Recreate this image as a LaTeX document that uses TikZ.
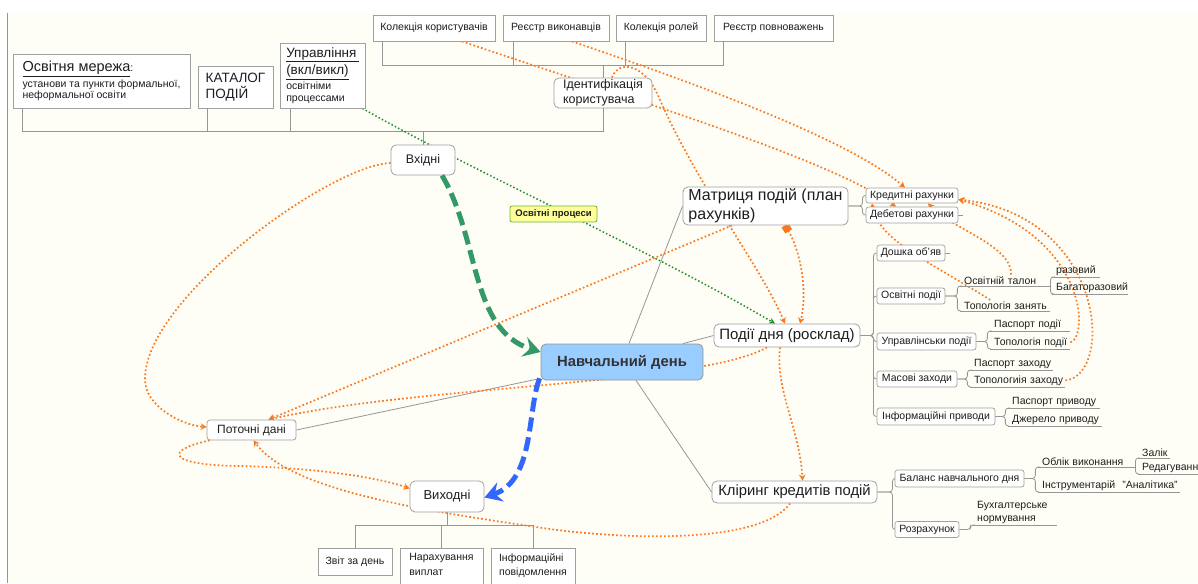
\documentclass[tikz,border=0pt]{standalone}
\usepackage{fontspec}
\setmainfont{Liberation Sans}
\usetikzlibrary{arrows.meta,calc}
\definecolor{bgcream}{RGB}{254,254,246}
\definecolor{edgegray}{RGB}{160,160,160}
\definecolor{linkgray}{RGB}{150,150,150}
\definecolor{relorange}{RGB}{250,120,30}
\definecolor{relgreen}{RGB}{30,140,40}
\definecolor{flowgreen}{RGB}{52,153,105}
\definecolor{flowblue}{RGB}{51,102,255}
\definecolor{hubblue}{RGB}{153,204,255}
\definecolor{notefill}{RGB}{255,255,153}
\definecolor{noteedge}{RGB}{110,180,60}
\definecolor{ink}{RGB}{30,30,30}
\definecolor{hubink}{RGB}{50,50,50}
\pgfdeclarelayer{bg}
\pgfdeclarelayer{links}
\pgfsetlayers{bg,links,main}

\begin{document}
\begin{tikzpicture}[x=1pt,y=-1pt,
  fs/.style 2 args={font=\fontsize{#1}{#2}\selectfont},
  topic/.style={draw=edgegray, fill=white, rounded corners=5pt, line width=0.8pt,
    text=ink, inner sep=0pt, align=left},
  sqbox/.style={draw=edgegray, fill=white, line width=0.8pt, text=ink, inner sep=0pt, align=left},
  subtopic/.style={draw=edgegray, fill=white, rounded corners=2.5pt, line width=0.7pt,
    text=ink, inner sep=0pt, fs={10.5}{12.5}},
  tree/.style={draw=linkgray, line width=0.8pt},
  branch/.style={tree, rounded corners=3pt},
  leaf/.style={anchor=south west, inner xsep=4pt, inner ysep=1.5pt, text=ink,
    fs={10.5}{12.5}, align=left, text width=#1,
    append after command={(\tikzlastnode.south west) edge[tree] (\tikzlastnode.south east)}},
  rel/.style={draw=relorange, line width=1.7pt, dash pattern=on 1.7pt off 2.3pt},
  relarrow/.style={rel, -{Stealth[length=6pt,width=6.5pt]}},
  grel/.style={draw=relgreen, line width=1.5pt, dash pattern=on 1.5pt off 2.2pt,
    -{Stealth[length=6pt,width=6pt]}},
  flow/.style={line width=5pt, dash pattern=on 14pt off 6pt,
    -{Stealth[length=17pt,width=20pt,inset=6pt]}}
]
\useasboundingbox (0,0) rectangle (1198,583);

% page background and frame line
\begin{pgfonlayer}{bg}
  \fill[white] (0,0) rectangle (1198,583);
  \fill[bgcream] (7,13) rectangle (1198,583);
  \draw[linkgray, line width=0.8pt] (7,13) -- (7,583);
\end{pgfonlayer}

% ---------- top registries ----------
\node[sqbox, fs={10.5}{12.5}, minimum width=122pt, minimum height=26pt] (kolk) at (434,28) {Колекція користувачів};
\node[sqbox, fs={10.5}{12.5}, minimum width=106pt, minimum height=26pt] (reestrv) at (556,28) {Реєстр виконавців};
\node[sqbox, fs={10.5}{12.5}, minimum width=90pt, minimum height=26pt] (kolr) at (661,28) {Колекція ролей};
\node[sqbox, fs={10.5}{12.5}, minimum width=119pt, minimum height=26pt] (reestrp) at (773.5,28) {Реєстр повноважень};

\node[topic, fs={12.5}{15}, minimum width=98pt, minimum height=30pt] (ident) at (603,93) {Ідентифікація\\користувача};

% ---------- input sources ----------
\node[sqbox, fs={10.5}{11.5}, minimum width=177pt, minimum height=54pt] (merezha) at (101.5,81)
  {{\fontsize{14.5}{16}\selectfont\underline{Освітня мережа}}:\\[2pt]установи та пункти формальної,\\неформальної освіти};
\node[sqbox, fs={13.5}{16}, minimum width=75pt, minimum height=42pt] (katalog) at (235.5,87) {КАТАЛОГ\\ПОДІЙ};
\node[sqbox, fs={10.5}{12}, minimum width=85pt, minimum height=65pt] (upravl) at (322.5,75.5)
  {{\fontsize{13.5}{15}\selectfont\underline{Управління\,}}\\[2pt]{\fontsize{13.5}{15}\selectfont\underline{(вкл/викл)}}\\[1pt]освітніми\\процессами};

\node[topic, fs={12.5}{15}, minimum width=64pt, minimum height=30pt] (vkh) at (423,160) {Вхідні};

% label that sits on the green relationship
\node[draw=noteedge, fill=notefill, rounded corners=2pt, line width=0.8pt, inner sep=0pt,
  text=ink, font=\fontsize{9.5}{11}\selectfont\bfseries, minimum width=87pt, minimum height=16pt] (osvproc) at (553.5,214) {Освітні процеси};

% ---------- central topics ----------
\node[topic, fs={16}{19}, minimum width=165pt, minimum height=38pt] (matr) at (765.5,206) {Матриця подій (план\\рахунків)};
\node[subtopic, minimum width=92pt, minimum height=15pt] (kred) at (912,195.5) {Кредитні рахунки};
\node[subtopic, minimum width=92pt, minimum height=16pt] (debet) at (912,215) {Дебетові рахунки};

\node[topic, fs={15}{18}, minimum width=146pt, minimum height=23pt] (podii) at (787,335.5) {Події дня (росклад)};

\node[topic, fill=hubblue, draw=linkgray, text=hubink, font=\fontsize{14.8}{17}\selectfont\bfseries,
  minimum width=162pt, minimum height=36pt] (navch) at (622,362) {Навчальний день};

\node[topic, rounded corners=3pt, fs={12}{14}, minimum width=89pt, minimum height=20pt] (potochni) at (251.5,430) {Поточні дані};
\node[topic, fs={13}{15}, minimum width=74pt, minimum height=31pt] (vykh) at (447,496.5) {Виходні};

\node[sqbox, fs={10.5}{12.5}, minimum width=74pt, minimum height=27pt] (zvit) at (355,561.5) {Звіт за день};
\node[sqbox, anchor=north, fs={10.5}{14.5}, minimum width=83pt, inner ysep=5pt, text depth=16pt] (narakh) at (441.5,548) {Нарахування\\виплат};
\node[sqbox, anchor=north, fs={10.5}{14.5}, minimum width=84pt, inner ysep=5pt, text depth=16pt] (inform) at (533,548) {Інформаційні\\повідомлення};

\node[topic, fs={14.8}{17}, minimum width=165pt, minimum height=22pt] (klir) at (794.5,492) {Кліринг кредитів подій};

% ---------- day events subtopics ----------
\node[subtopic, minimum width=68pt, minimum height=16pt] (doshka) at (911,253) {Дошка об’яв};
\node[subtopic, minimum width=68pt, minimum height=16pt] (osvp) at (911,296) {Освітні події};
\node[subtopic, minimum width=99pt, minimum height=17pt] (upr) at (926.5,341.5) {Управлінськи події};
\node[subtopic, minimum width=80pt, minimum height=16pt] (mas) at (917,379) {Масові заходи};
\node[subtopic, minimum width=118pt, minimum height=17pt] (inf) at (936,416.5) {Інформаційні приводи};

\node[leaf=82pt] (talon) at (960,286) {\mbox{Освітній талон}};
\node[leaf=82pt] (topzan) at (960,311) {\mbox{Топологія занять}};
\node[leaf=40pt] (razovyi) at (1052,277) {\mbox{разовий}};
\node[leaf=68pt] (bahato) at (1052,294) {\mbox{Багаторазовий}};
\node[leaf=72pt] (paspp) at (990,331) {\mbox{Паспорт події}};
\node[leaf=72pt] (topp) at (990,349) {\mbox{Топологія події}};
\node[leaf=75pt] (paspz) at (970,370) {\mbox{Паспорт заходу}};
\node[leaf=87pt] (topz) at (970,387) {\mbox{Топологиія заходу}};
\node[leaf=84pt] (paspr) at (1008,408) {\mbox{Паспорт приводу}};
\node[leaf=86pt] (dzher) at (1008,426) {\mbox{Джерело приводу}};

% ---------- clearing subtopics ----------
\node[subtopic, minimum width=129pt, minimum height=17pt] (balans) at (959.5,478.5) {Баланс навчального дня};
\node[subtopic, minimum width=64pt, minimum height=16pt] (rozr) at (927,529.5) {Розрахунок};
\node[leaf=89pt] (oblik) at (1038,467) {\mbox{Облік виконання}};
\node[leaf=134pt] (instr) at (1038,492) {\mbox{Інструментарій\ \ "Аналітика"}};
\node[leaf=24pt] (zalik) at (1138,458) {\mbox{Залік}};
\node[leaf=72pt] (redag) at (1138,474) {\mbox{Редагування}};
\node[leaf=76pt] (bukh) at (973,525) {Бухгалтерське\\нормування};

% ---------- tree connectors ----------
\begin{pgfonlayer}{links}
  \draw[tree] ([xshift=10pt]kolk.south west) -- ++(0,24) -| (ident.north);
  \draw[tree] ([xshift=11pt]reestrv.south west) -- ++(0,24) -| (ident.north);
  \draw[tree] ([xshift=10pt]kolr.south west) -- ++(0,24) -| (ident.north);
  \draw[tree] ([xshift=10pt]reestrp.south west) -- ++(0,24) -| (ident.north);

  \draw[tree] ([xshift=10pt]merezha.south west) -- ++(0,23) -| (vkh.north);
  \draw[tree] ([xshift=10pt]katalog.south west) -- ++(0,23) -| (vkh.north);
  \draw[tree] ([xshift=11pt]upravl.south west) -- ++(0,23) -| (vkh.north);
  \draw[tree] (ident.south) -- ++(0,23) -| (vkh.north);

  \draw[tree] (vykh.south) -- ++(0,13) -| (zvit.north);
  \draw[tree] (vykh.south) -- ++(0,13) -| (narakh.north);
  \draw[tree] (vykh.south) -- ++(0,13) -| (inform.north);

  \draw[tree] ([xshift=7pt]navch.north) -- (matr.west);
  \draw[tree] ([xshift=61pt]navch.north) -- (podii.west);
  \draw[tree] ([xshift=14pt]navch.south) -- (klir.west);
  \draw[tree] ([yshift=2pt]navch.south west) -- (potochni.east);

  \draw[branch] (matr.east) -- ++(14,0) |- (kred.west);
  \draw[branch] (matr.east) -- ++(14,0) |- (debet.west);
  % collapsed-branch stubs
  \draw[tree] (debet.east) -- ++(5,0);
  \draw[tree] (doshka.east) -- ++(5,0);

  \foreach \c in {doshka,osvp,upr,mas,inf}
    \draw[branch] (podii.east) -- ++(13,0) |- (\c.west);
  \draw[branch] (osvp.east) -- ++(12,0) |- (talon.south west);
  \draw[branch] (osvp.east) -- ++(12,0) |- (topzan.south west);
  \draw[branch] (talon.south east) |- (razovyi.south west);
  \draw[branch] (talon.south east) |- (bahato.south west);
  \draw[branch] (upr.east) -- ++(11,0) |- (paspp.south west);
  \draw[branch] (upr.east) -- ++(11,0) |- (topp.south west);
  \draw[branch] (mas.east) -- ++(10,0) |- (paspz.south west);
  \draw[branch] (mas.east) -- ++(10,0) |- (topz.south west);
  \draw[branch] (inf.east) -- ++(10,0) |- (paspr.south west);
  \draw[branch] (inf.east) -- ++(10,0) |- (dzher.south west);

  \draw[branch] (klir.east) -- ++(15,0) |- (balans.west);
  \draw[branch] (klir.east) -- ++(15,0) |- (rozr.west);
  \draw[branch] (balans.east) -- ++(11,0) |- (oblik.south west);
  \draw[branch] (balans.east) -- ++(11,0) |- (instr.south west);
  \draw[branch] (oblik.south east) |- (zalik.south west);
  \draw[branch] (oblik.south east) |- (redag.south west);
  \draw[branch] (rozr.east) -- ++(11,0) |- (bukh.south west);

  % ---------- relationships ----------
  \draw[grel] ([xshift=-3pt]upravl.south east) .. controls (480,175) and (650,250) .. ([xshift=-12pt]podii.north);

  \draw[relarrow] ([yshift=-3pt]vkh.west) .. controls (330,165) and (143,300) .. (145,380)
    .. controls (145,405) and (180,425) .. ([yshift=3pt]potochni.west);
  \draw[relarrow] ([xshift=-33.5pt]matr.south) -- ([xshift=17pt]potochni.north);
  \draw[relarrow] ([xshift=-20pt]podii.south) .. controls (700,385) and (420,385) .. ([xshift=17pt]potochni.north);
  \draw[relarrow] ([xshift=3pt]potochni.south west) .. controls (165,450) and (165,465) .. (240,466)
    .. controls (320,468) and (380,478) .. ([yshift=8pt]vykh.west);
  \draw[relarrow] ([xshift=-4.5pt]klir.south) .. controls (760,545) and (620,540) .. (536,527)
    .. controls (420,510) and (290,490) .. ([xshift=2pt]potochni.south);
  \draw[relarrow] ([xshift=-7pt]podii.south) .. controls (775,390) and (800,430) .. ([xshift=8pt]klir.north);
  \draw[relarrow] ([xshift=9pt]ident.north) .. controls (618,60) and (645,62) .. (660,100)
    .. controls (700,190) and (760,265) .. ([xshift=-2pt]podii.north);
  \draw[rel, {Square[length=7pt,width=8pt]}-{Stealth[length=6pt,width=6.5pt]}]
    ([xshift=19.5pt]matr.south) .. controls (800,250) and (808,290) .. ([xshift=13pt]podii.north);
  \draw[relarrow] ([xshift=16pt]reestrv.south) .. controls (700,85) and (850,140) .. ([xshift=-7pt]kred.north);
  \draw[relarrow] ([xshift=28pt]kolk.south) .. controls (650,105) and (830,160) .. ([xshift=-16pt]debet.north);
  \draw[relarrow] ([xshift=-15pt]topzan.north) .. controls (930,262) and (878,240) .. ([xshift=-40pt]kred.south);
  \draw[relarrow] ([xshift=6pt]talon.north) .. controls (1012,245) and (950,228) .. ([xshift=16pt]kred.south);
  \draw[relarrow] (topp.east) .. controls (1090,335) and (1085,235) .. ([yshift=-4pt]kred.east);
  \draw[relarrow] (topz.east) .. controls (1115,375) and (1105,215) .. ([yshift=-4pt]kred.east);
\end{pgfonlayer}

% ---------- main flows ----------
\draw[flow, flowgreen] ([xshift=19pt]vkh.south) .. controls (480,240) and (470,330) .. ([yshift=10pt]navch.west);
\draw[flow, flowblue] ([xshift=-1pt,yshift=2pt]navch.south west) .. controls (527,410) and (535,480) .. ([yshift=-1pt]vykh.east);

\end{tikzpicture}
\end{document}
